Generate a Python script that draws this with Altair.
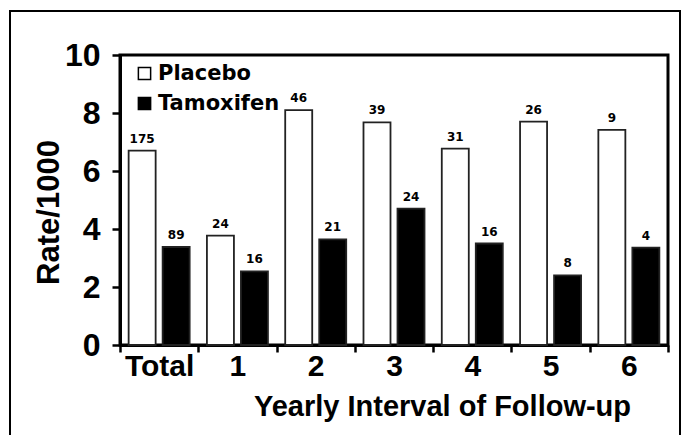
import altair as alt
import pandas as pd

categories = ["Total", "1", "2", "3", "4", "5", "6"]
placebo_rate = [6.7, 3.77, 8.1, 7.68, 6.77, 7.7, 7.42]
tamoxifen_rate = [3.38, 2.54, 3.64, 4.7, 3.5, 2.4, 3.36]
placebo_n = [175, 24, 46, 39, 31, 26, 9]
tamoxifen_n = [89, 16, 21, 24, 16, 8, 4]
groups = ["Placebo", "Tamoxifen"]

rows = []
for i, c in enumerate(categories):
    rows.append({"cat": c, "group": "Placebo", "rate": placebo_rate[i], "n": str(placebo_n[i])})
    rows.append({"cat": c, "group": "Tamoxifen", "rate": tamoxifen_rate[i], "n": str(tamoxifen_n[i])})
df = pd.DataFrame(rows)

x_enc = alt.X(
    "cat:N", sort=categories,
    scale=alt.Scale(paddingInner=0, paddingOuter=0),
    axis=alt.Axis(
        title="Yearly Interval of Follow-up",
        labelAngle=0,
        labelFont="Liberation Sans", labelFontWeight="bold", labelFontSize=30,
        labelColor="black", labelBaseline="alphabetic", labelPadding=23,
        tickBand="extent", tickSize=7, tickWidth=2.5, tickColor="black",
        domainColor="black", domainWidth=3,
        titleFont="Liberation Sans", titleFontWeight="bold", titleFontSize=29,
        titleColor="black", titleX=322, titleY=70, titleBaseline="alphabetic",
        titleAlign="center",
    ),
)
xoff = alt.XOffset("group:N", sort=groups,
                   scale=alt.Scale(paddingInner=0.206, paddingOuter=0.254))
y_enc = alt.Y(
    "rate:Q",
    scale=alt.Scale(domain=[0, 10], nice=False),
    axis=alt.Axis(
        title="Rate/1000",
        values=list(range(0, 11)),
        labelExpr="datum.value % 2 == 0 ? datum.label : ''",
        labelFont="Liberation Sans", labelFontWeight="bold", labelFontSize=32,
        labelColor="black", labelPadding=12,
        tickSize=8, tickWidth=2.5, tickColor="black",
        domainColor="black", domainWidth=3, grid=False,
        titleFont="Liberation Sans", titleFontWeight="bold", titleFontSize=31,
        titleColor="black", titleX=-62, titleY=157, titleAngle=-90,
        titleAlign="center", titleBaseline="alphabetic",
    ),
)

bars = alt.Chart(df).mark_bar(stroke="#222", strokeWidth=1.8).encode(
    x=x_enc, xOffset=xoff, y=y_enc,
    color=alt.Color(
        "group:N", sort=groups,
        scale=alt.Scale(domain=groups, range=["white", "black"]),
        legend=alt.Legend(
            title=None, orient="none", legendX=14, legendY=8,
            symbolType="square", symbolSize=150, symbolStrokeColor="black",
            symbolStrokeWidth=1.5, symbolOpacity=1,
            labelFont="DejaVu Sans", labelFontWeight="bold", labelFontSize=21,
            labelColor="black", labelOffset=3, rowPadding=8,
        ),
    ),
)

labels = alt.Chart(df).mark_text(
    baseline="bottom", dy=-5, font="DejaVu Sans", fontWeight="bold", fontSize=12, color="black"
).encode(
    x=alt.X("cat:N", sort=categories), xOffset=alt.XOffset("group:N", sort=groups),
    y="rate:Q", text="n:N",
)

border = alt.Chart(alt.Data(values=[{}])).mark_rect(
    fill="transparent", stroke="black", strokeWidth=2
).encode(
    x=alt.value(-110), x2=alt.value(560), y=alt.value(-44), y2=alt.value(420)
)

chart = alt.layer(border, bars, labels).properties(
    width=548, height=290,
    autosize=alt.AutoSizeParams(type="none"),
    padding={"left": 112, "top": 47, "right": 13, "bottom": 90},
).configure_view(stroke="black", strokeWidth=3)

chart.save("out.html", embed_options={"renderer": "svg", "actions": False})
